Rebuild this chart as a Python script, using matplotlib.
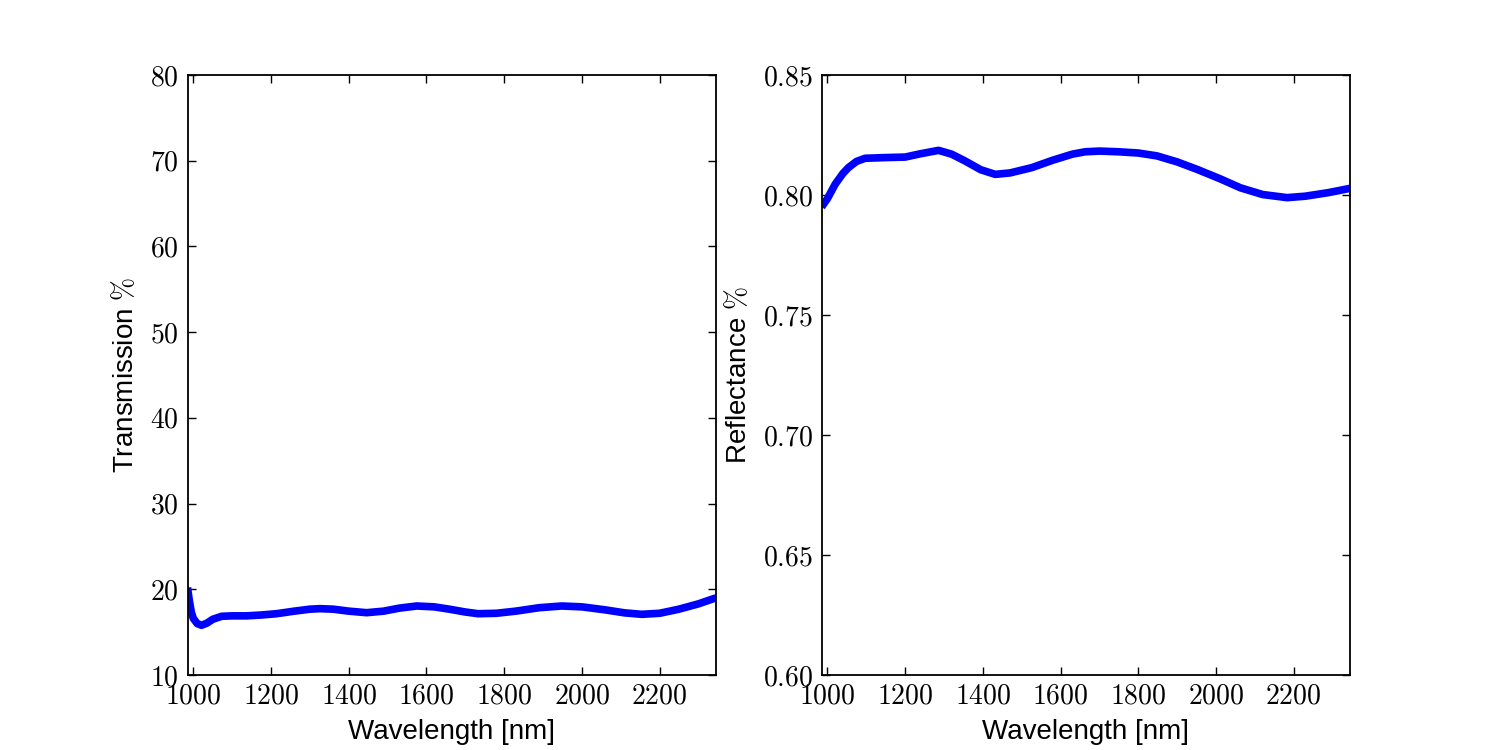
"""
Transmission and reflectance spectra, side by side.
"""

import matplotlib

matplotlib.use("Agg")
import matplotlib.pyplot as plt
from matplotlib.ticker import FuncFormatter

plt.rcParams["mathtext.fontset"] = "cm"
plt.rcParams["font.family"] = ["Liberation Sans", "DejaVu Sans"]

# transmission curve
trans_wl = [985, 990, 995, 1000, 1010, 1021, 1035, 1050, 1073, 1100, 1137, 1175,
            1214, 1260, 1300, 1326, 1360, 1400, 1446, 1490, 1530, 1575, 1620,
            1660, 1700, 1733, 1780, 1830, 1890, 1948, 2000, 2060, 2110, 2154,
            2200, 2249, 2300, 2345]
trans_val = [20.2, 18.6, 17.3, 16.6, 16.0, 15.8, 16.05, 16.5, 16.85, 16.9, 16.9,
             17.0, 17.15, 17.45, 17.68, 17.74, 17.68, 17.45, 17.27, 17.45, 17.8,
             18.05, 17.95, 17.67, 17.35, 17.15, 17.2, 17.45, 17.85, 18.05, 17.95,
             17.6, 17.25, 17.08, 17.2, 17.67, 18.3, 19.0]

# reflectance curve
refl_wl = [985, 1000, 1020, 1040, 1054, 1075, 1097, 1150, 1200, 1240, 1286,
           1320, 1354, 1395, 1432, 1470, 1526, 1580, 1630, 1663, 1700, 1750,
           1800, 1848, 1900, 1951, 2010, 2063, 2120, 2183, 2230, 2290, 2346]
refl_val = [0.7950, 0.7985, 0.8045, 0.8090, 0.8114, 0.8140, 0.8153, 0.8156,
            0.8158, 0.8172, 0.8186, 0.8170, 0.8142, 0.8105, 0.8086, 0.8092,
            0.8114, 0.8145, 0.8170, 0.8180, 0.8183, 0.8180, 0.8175, 0.8163,
            0.8138, 0.8107, 0.8068, 0.8030, 0.8002, 0.7989, 0.7995, 0.8010,
            0.8028]

x_ticks = [1000, 1200, 1400, 1600, 1800, 2000, 2200]
trans_ticks = [10, 20, 30, 40, 50, 60, 70, 80]
refl_ticks = [0.60, 0.65, 0.70, 0.75, 0.80, 0.85]


def style_axes(ax):
    ax.set_xlim(985, 2345)
    ax.set_xticks(x_ticks)
    ax.xaxis.set_major_formatter(FuncFormatter(lambda v, _: f"${v:.0f}$"))
    ax.tick_params(direction="in", top=True, right=True, length=6,
                   width=1, labelsize=20, pad=6)
    for s in ax.spines.values():
        s.set_linewidth(1.3)
    ax.set_xlabel("Wavelength [nm]", fontsize=20, labelpad=7)


fig, (ax1, ax2) = plt.subplots(1, 2, figsize=(15, 7.5), dpi=100)
fig.subplots_adjust(left=0.125, right=0.9, bottom=0.1, top=0.9, wspace=0.2)

ax1.plot(trans_wl, trans_val, color="b", linewidth=5.5,
         solid_joinstyle="round", solid_capstyle="butt")
style_axes(ax1)
ax1.set_ylim(10, 80)
ax1.set_yticks(trans_ticks)
ax1.yaxis.set_major_formatter(FuncFormatter(lambda v, _: f"${v:.0f}$"))
ax1.set_ylabel(r"Transmission $\%$", fontsize=20, labelpad=8)

ax2.plot(refl_wl, refl_val, color="b", linewidth=5.5,
         solid_joinstyle="round", solid_capstyle="butt")
style_axes(ax2)
ax2.set_ylim(0.60, 0.85)
ax2.set_yticks(refl_ticks)
ax2.yaxis.set_major_formatter(FuncFormatter(lambda v, _: f"${v:.2f}$"))
ax2.set_ylabel(r"Reflectance $\%$", fontsize=20, labelpad=8)

fig.savefig("out.png", dpi=100)
plt.close(fig)
